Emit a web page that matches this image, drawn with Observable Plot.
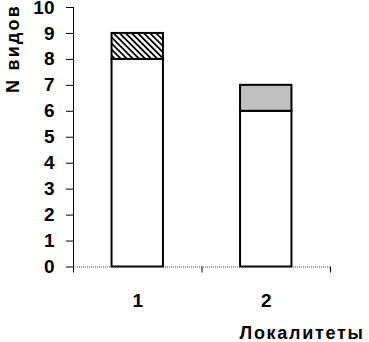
<!DOCTYPE html>
<html>
<head>
<meta charset="utf-8">
<script src="https://cdn.jsdelivr.net/npm/d3@7"></script>
<script src="https://cdn.jsdelivr.net/npm/@observablehq/plot@0.6"></script>
<style>
  html, body { margin: 0; padding: 0; background: #fff; }
  svg { font-family: "Liberation Sans", Arial, sans-serif; }
</style>
</head>
<body>
<div id="chart"></div>
<script>
const categories = ["1", "2"];
const baseValues = [8, 6];
const topValues = [1, 1];
const yTicks = [0, 1, 2, 3, 4, 5, 6, 7, 8, 9, 10];
const yLabel = "N видов";
const xLabel = "Локалитеты";

const baseRows = categories.map((c, i) => ({i, cat: c, y1: 0, y2: baseValues[i]}));
const topRows = categories.map((c, i) => ({i, cat: c, y1: baseValues[i], y2: baseValues[i] + topValues[i]}));
const topFills = ["url(#hatch)", "#c0c0c0"];

const plot = Plot.plot({
  width: 369,
  height: 342,
  marginLeft: 73,
  marginRight: 39,
  marginTop: 7,
  marginBottom: 75.5,
  style: {background: "#fff", color: "#000", fontFamily: "'Liberation Sans', Arial, sans-serif"},
  x: {type: "linear", domain: [0, categories.length], axis: null},
  y: {domain: [0, 10], axis: null},
  marks: [
    Plot.rectY(baseRows, {x1: d => d.i + 0.3, x2: d => d.i + 0.7, y1: "y1", y2: "y2", fill: "#fff", stroke: "#000", strokeWidth: 2}),
    Plot.rectY(topRows, {x1: d => d.i + 0.3, x2: d => d.i + 0.7, y1: "y1", y2: "y2", fill: d => topFills[d.i], stroke: "#000", strokeWidth: 2}),
    Plot.ruleY([0], {stroke: "#444", strokeDasharray: "1,1"}),
    Plot.ruleX([0], {stroke: "#000"}),
    Plot.axisY(yTicks, {tickSize: 7, tickPadding: 12, fontSize: 19, fontWeight: "bold", tickFormat: d => String(d)}),
    Plot.axisX(d3.range(categories.length + 1), {tickSize: 6, tickFormat: () => ""}),
    Plot.text(categories, {x: (d, i) => i + 0.5, text: d => d, frameAnchor: "bottom", dy: 33.5, lineAnchor: "middle", fontSize: 19, fontWeight: "bold"}),
    Plot.text([yLabel], {frameAnchor: "top-left", rotate: -90, dx: -60.5, dy: 41, lineAnchor: "middle", textAnchor: "middle", fontSize: 18, fontWeight: "bold"}),
    Plot.text([xLabel], {frameAnchor: "bottom-right", textAnchor: "end", lineAnchor: "bottom", dx: 34, dy: 72, fontSize: 18, fontWeight: "bold"})
  ]
});

const svgns = "http://www.w3.org/2000/svg";
const defs = document.createElementNS(svgns, "defs");
defs.innerHTML = `<pattern id="hatch" patternUnits="userSpaceOnUse" width="4.3" height="4.3" patternTransform="rotate(-45)">
  <rect x="0" y="0" width="4.3" height="4.3" fill="#fff"></rect>
  <rect x="0" y="0" width="1.8" height="4.3" fill="#000"></rect>
</pattern>`;
plot.insertBefore(defs, plot.firstChild);
plot.querySelectorAll("text").forEach(t => {
  if (t.textContent === yLabel) t.style.letterSpacing = "2.2px";
  if (t.textContent === xLabel) t.style.letterSpacing = "1.7px";
});
document.getElementById("chart").appendChild(plot);
</script>
</body>
</html>
